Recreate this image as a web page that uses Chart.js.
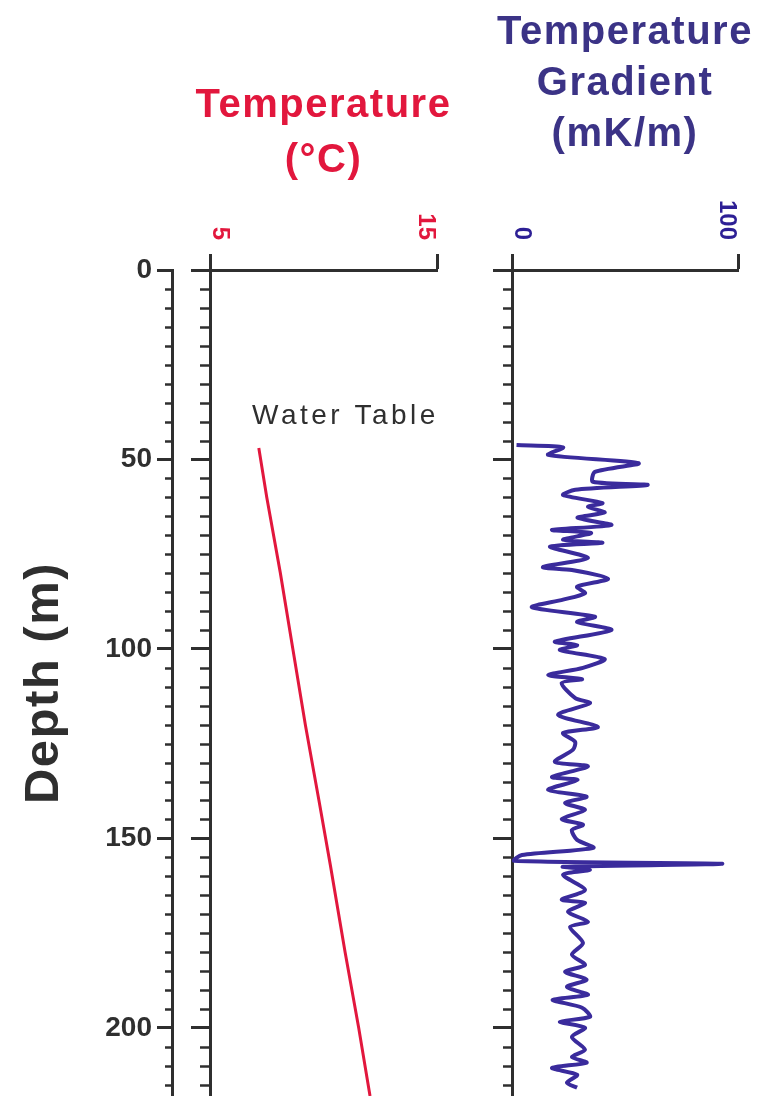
<!DOCTYPE html>
<html>
<head>
<meta charset="utf-8">
<script src="https://cdn.jsdelivr.net/npm/chart.js@4.4.1/dist/chart.umd.min.js"></script>
<style>
  html, body { margin: 0; padding: 0; background: #fff; overflow: hidden; }
  body { width: 762px; height: 1096px; position: relative; }
  canvas { position: absolute; top: 0; }
  #tempChart { left: 0; }
  #gradChart { left: 480px; }
</style>
</head>
<body>
<canvas id="tempChart" width="647" height="1096"></canvas>
<canvas id="gradChart" width="290" height="1096"></canvas>
<script>
/* ====== DATA ====== */
const depthTicks = [0, 50, 100, 150, 200];
const tempTicks = [5, 15];
const gradTicks = [0, 100];

// temperature log, depth (m) / temperature (°C)
const tempDepth = [47, 60, 80, 100, 120, 140, 157, 180, 200, 218];
const tempValues = [7.15, 7.5, 8.1, 8.65, 9.2, 9.8, 10.3, 10.95, 11.55, 12.05];

// gradient log, depth (m) / gradient (mK/m)
const gradDepth = [
  46.2, 46.8, 48.8, 51, 53.3, 55.9, 56.7, 58, 59.4, 61.5, 62.5, 64, 65.4, 67.3, 68.6, 69.4,
  71.2, 72, 73, 76, 78.4, 79.2, 81.5, 83.6, 85.3, 87, 89, 91.5, 92.9, 95, 98.1, 99, 100.3,
  102.7, 105, 106.9, 108, 109, 113, 114.3, 117.4, 120.6, 122.2, 124.5, 126.6, 129.8, 131,
  133.8, 134.6, 137.2, 139, 140.7, 142.5, 144.9, 146.4, 147.8, 150.4, 152.5, 154.4, 155.9,
  156.7, 157.5, 158.3, 159.6, 163.6, 166.2, 167, 169.4, 172, 173.4, 177.6, 180.7, 183.4,
  185.2, 187.3, 189.2, 191.3, 192.6, 194.7, 197.1, 198.4, 200, 202.4, 205.8, 207.7, 209.2,
  210.6, 212.4, 214.5, 215.8
];
const gradValues = [
  2, 22.6, 16, 56, 36.7, 35.8, 60, 28, 22.6, 40, 33.6, 41, 29, 44, 17.7, 35,
  22.6, 40, 16.8, 33.6, 13.7, 26.5, 42.5, 28.8, 32.3, 22.6, 8.8, 36.7, 28.8, 44, 19, 28.8, 21.2,
  41, 31.4, 16, 31, 22, 28, 34.5, 20.4, 38, 22.6, 27.9, 27, 19, 33.6,
  17.7, 29, 16, 33, 23.5, 32.3, 22, 31.4, 26.5, 28.8, 36, 4.4, 1,
  93, 22.6, 34.5, 22.6, 32.3, 22, 32.3, 24.8, 33.6, 25.7, 31.4, 26.5, 32.3,
  23.5, 33, 24.3, 33.6, 18, 31, 34.5, 21.2, 32.3, 26.5, 32.3, 26.5, 33,
  17.7, 28.8, 24.3, 28.8
];

const waterTable = { label: 'Water Table', temp: 6.85, depth: 38.5 };

/* ====== STYLE ====== */
const INK = '#2f2f2f';
const RED = '#e2173d';
const BLUE = '#3a2b9c';
const TITLE_BLUE = '#3b3386';
const FONT = '"Liberation Sans", Arial, Helvetica, sans-serif';
const DEPTH_MAX = 218;
const AXIS_TOP = 270;

/* ====== PANEL DECORATION PLUGIN ====== */
// minor depth ticks, rotated top tick labels, water table note
const panelDecor = {
  id: 'panelDecor',
  beforeDraw(chart) {
    chart.ctx.letterSpacing = '1.5px';
  },
  beforeDatasetsDraw(chart) {
    chart.ctx.letterSpacing = '0px';
  },
  afterDraw(chart, args, opts) {
    const ctx = chart.ctx;
    ctx.save();
    ctx.letterSpacing = '0px';
    ctx.strokeStyle = INK;
    ctx.lineWidth = 2.5;
    opts.minor.forEach(m => {
      const s = chart.scales[m.axis];
      for (let v = 5; v < s.max; v += 5) {
        if (v % 50 === 0) continue;
        const y = Math.round(s.getPixelForValue(v)) + 0.5;
        ctx.beginPath();
        ctx.moveTo(s.right - m.len, y);
        ctx.lineTo(s.right, y);
        ctx.stroke();
      }
    });

    const xs = chart.scales.x;
    ctx.fillStyle = opts.labelColor;
    ctx.font = 'bold 24px ' + FONT;
    ctx.textAlign = 'right';
    ctx.textBaseline = 'middle';
    xs.ticks.forEach((t, i) => {
      const px = xs.getPixelForValue(t.value) + (i === 0 ? 10 : -11);
      ctx.save();
      ctx.translate(px, xs.bottom - 30);
      ctx.rotate(Math.PI / 2);
      ctx.fillText(t.label, 0, 0);
      ctx.restore();
    });

    if (opts.note) {
      const ys = chart.scales.y;
      ctx.fillStyle = INK;
      ctx.font = '28px ' + FONT;
      ctx.letterSpacing = '3.5px';
      ctx.textAlign = 'left';
      ctx.fillText(opts.note.label, xs.getPixelForValue(opts.note.temp), ys.getPixelForValue(opts.note.depth));
    }
    ctx.restore();
  }
};

// no label overhang padding, so every panel keeps the same depth scale
function noPad(s) {
  s.paddingTop = 0;
  s.paddingBottom = 0;
  s.paddingLeft = 0;
  s.paddingRight = 0;
}

function depthAxis(width, extra) {
  return Object.assign({
    type: 'linear',
    position: 'left',
    reverse: true,
    min: 0,
    max: DEPTH_MAX,
    afterBuildTicks: s => { s.ticks = depthTicks.map(v => ({ value: v })); },
    ticks: { display: false },
    grid: { drawOnChartArea: false, tickLength: 19, tickWidth: 3, tickColor: INK },
    border: { color: INK, width: 3 },
    afterFit: s => { s.width = width; noPad(s); },
  }, extra);
}

function spacer(w) {
  return {
    type: 'linear', position: 'right',
    ticks: { display: false }, grid: { display: false }, border: { display: false },
    afterFit: s => { s.width = w; noPad(s); },
  };
}

function topAxis(min, max, ticks, height) {
  return {
    type: 'linear', position: 'top', min: min, max: max,
    afterBuildTicks: s => { s.ticks = ticks.map(v => ({ value: v })); },
    ticks: { display: false },
    grid: { drawOnChartArea: false, tickLength: 16, tickWidth: 3, tickColor: INK },
    border: { color: INK, width: 3 },
    afterFit: s => { s.height = height; noPad(s); },
  };
}

/* ====== TEMPERATURE PANEL ====== */
new Chart(document.getElementById('tempChart'), {
  type: 'scatter',
  data: {
    datasets: [{
      data: tempDepth.map((d, i) => ({ x: tempValues[i], y: d })),
      showLine: true,
      borderColor: RED,
      borderWidth: 3,
      pointRadius: 0,
      xAxisID: 'x',
      yAxisID: 'y',
    }],
  },
  options: {
    responsive: false,
    animation: false,
    events: [],
    layout: { padding: 0, autoPadding: false },
    plugins: {
      legend: { display: false },
      tooltip: { enabled: false },
      title: {
        display: true,
        text: ['Temperature', '(°C)'],
        color: RED,
        font: { family: FONT, size: 40, weight: 'bold', lineHeight: '55px' },
        padding: { top: 78, bottom: 0 },
      },
      panelDecor: {
        minor: [{ axis: 'y', len: 7 }, { axis: 'y2', len: 10 }],
        labelColor: RED,
        note: waterTable,
      },
    },
    scales: {
      x: topAxis(5, 15, tempTicks, AXIS_TOP - 188),
      y: depthAxis(172, {
        weight: 2,
        ticks: { display: true, padding: 5, color: INK, font: { family: FONT, size: 28, weight: 'bold' }, z: 1 },
        grid: { drawOnChartArea: false, tickLength: 15, tickWidth: 3, tickColor: INK },
        title: {
          display: true, text: 'Depth (m)', color: INK,
          font: { family: FONT, size: 49, weight: 'bold' }, padding: { top: 15, bottom: 0 },
        },
      }),
      y2: depthAxis(38, { weight: 1 }),
      yR: spacer(647 - 437),
    },
  },
  plugins: [panelDecor],
});

/* ====== GRADIENT PANEL ====== */
new Chart(document.getElementById('gradChart'), {
  type: 'scatter',
  data: {
    datasets: [{
      data: gradDepth.map((d, i) => ({ x: gradValues[i], y: d })),
      showLine: true,
      borderColor: BLUE,
      borderWidth: 4,
      tension: 0.25,
      pointRadius: 0,
      xAxisID: 'x',
      yAxisID: 'y',
    }],
  },
  options: {
    responsive: false,
    animation: false,
    events: [],
    layout: { padding: 0, autoPadding: false },
    plugins: {
      legend: { display: false },
      tooltip: { enabled: false },
      title: {
        display: true,
        text: ['Temperature', 'Gradient', '(mK/m)'],
        color: TITLE_BLUE,
        font: { family: FONT, size: 40, weight: 'bold', lineHeight: '51px' },
        padding: { top: 7, bottom: 0 },
      },
      panelDecor: {
        minor: [{ axis: 'y', len: 9 }],
        labelColor: '#2d1f95',
      },
    },
    scales: {
      x: topAxis(0, 100, gradTicks, AXIS_TOP - 160),
      y: depthAxis(32),
      yR: spacer(32),
    },
  },
  plugins: [panelDecor],
});
</script>
</body>
</html>
